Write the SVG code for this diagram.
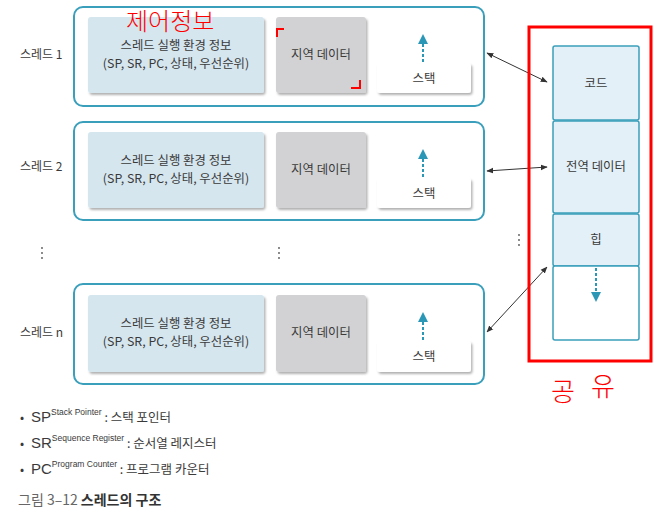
<svg xmlns="http://www.w3.org/2000/svg" width="654" height="515" viewBox="0 0 654 515">
<defs>
<marker id="ah" viewBox="0 0 10 10" refX="9" refY="5" markerWidth="7" markerHeight="7" orient="auto-start-reverse"><path d="M0,1 L10,5 L0,9 z" fill="#333"/></marker>
<marker id="bh" viewBox="0 0 10 10" refX="8" refY="5" markerWidth="5" markerHeight="5" orient="auto"><path d="M0,0 L10,5 L0,10 z" fill="#2b97b7"/></marker>
<filter id="sh" x="-10%" y="-10%" width="125%" height="130%"><feDropShadow dx="1.5" dy="2" stdDeviation="1.2" flood-color="#000" flood-opacity="0.3"/></filter>
</defs>
<style>
text{font-family:"Noto Sans CJK KR","Noto Sans",sans-serif;fill:#3a3a3a;font-size:12px}
text.c{text-anchor:middle;font-size:12.4px}
.outer{fill:#fff;stroke:#3a9fbb;stroke-width:2}
.env{fill:#d5e6ef;filter:url(#sh)}
.loc{fill:#d2d2d4;filter:url(#sh)}
.stk{fill:#fff;filter:url(#sh)}
.mem{fill:#e4f0f7;stroke:#3a9fbb;stroke-width:1.5}
.up{stroke:#2b97b7;stroke-width:2;stroke-dasharray:3,2;fill:none}
.conn{stroke:#333;stroke-width:1;fill:none;marker-start:url(#ah);marker-end:url(#ah)}
.red{fill:none;stroke:#f00;stroke-width:2}
text.hand{fill:#f00;font-family:"Noto Sans CJK KR",sans-serif;font-weight:300}
text.big{font-size:15px;font-family:"Liberation Sans","Noto Sans CJK KR",sans-serif}
.sup{font-size:8.5px}
.kr{font-size:12.5px;font-family:"Noto Sans CJK KR",sans-serif}
</style>
<rect width="654" height="515" fill="#fff"/>

<g id="thread1">
<text x="20" y="59">스레드 1</text>
<rect class="outer" x="74" y="7" width="410" height="99" rx="9"/>
<rect class="env" x="88" y="17" width="176" height="76" rx="3"/>
<text class="c" x="176" y="50">스레드 실행 환경 정보</text>
<text class="c" x="176" y="68">(SP, SR, PC, 상태, 우선순위)</text>
<rect class="loc" x="276" y="17" width="90" height="76" rx="3"/>
<text class="c" x="321" y="59">지역 데이터</text>
<rect class="stk" x="377" y="63" width="94" height="30" rx="3"/>
<text class="c" x="424" y="83">스택</text>
<path class="up" d="M423,62 V36" marker-end="url(#bh)"/>
</g>

<g id="thread2">
<text x="20" y="171">스레드 2</text>
<rect class="outer" x="74" y="122" width="410" height="98" rx="9"/>
<rect class="env" x="88" y="132" width="176" height="76" rx="3"/>
<text class="c" x="176" y="165">스레드 실행 환경 정보</text>
<text class="c" x="176" y="183">(SP, SR, PC, 상태, 우선순위)</text>
<rect class="loc" x="276" y="132" width="90" height="76" rx="3"/>
<text class="c" x="321" y="174">지역 데이터</text>
<rect class="stk" x="377" y="178" width="94" height="30" rx="3"/>
<text class="c" x="424" y="198">스택</text>
<path class="up" d="M423,177 V151" marker-end="url(#bh)"/>
</g>

<g id="threadn">
<text x="20" y="337">스레드 n</text>
<rect class="outer" x="74" y="284" width="410" height="100" rx="9"/>
<rect class="env" x="88" y="295" width="176" height="77" rx="3"/>
<text class="c" x="176" y="328">스레드 실행 환경 정보</text>
<text class="c" x="176" y="346">(SP, SR, PC, 상태, 우선순위)</text>
<rect class="loc" x="276" y="295" width="90" height="77" rx="3"/>
<text class="c" x="321" y="337">지역 데이터</text>
<rect class="stk" x="377" y="341" width="94" height="31" rx="3"/>
<text class="c" x="424" y="361">스택</text>
<path class="up" d="M423,340 V314" marker-end="url(#bh)"/>
</g>

<g id="dots" fill="#555">
<circle cx="42" cy="248" r="0.9"/><circle cx="42" cy="253" r="0.9"/><circle cx="42" cy="258" r="0.9"/>
<circle cx="279" cy="248" r="0.9"/><circle cx="279" cy="253" r="0.9"/><circle cx="279" cy="258" r="0.9"/>
<circle cx="519" cy="235" r="0.9"/><circle cx="519" cy="240" r="0.9"/><circle cx="519" cy="245" r="0.9"/>
</g>

<g id="memory">
<rect class="mem" x="553" y="46" width="86" height="74" rx="2"/>
<text class="c" x="596" y="88">코드</text>
<rect class="mem" x="553" y="121" width="86" height="92" rx="2"/>
<text class="c" x="596" y="171">전역 데이터</text>
<rect class="mem" x="553" y="214" width="86" height="52" rx="2"/>
<text class="c" x="596" y="244">힙</text>
<rect x="553" y="266" width="86" height="74" rx="2" fill="#fff" stroke="#3a9fbb" stroke-width="1.5"/>
<path class="up" d="M596,268 V300" marker-end="url(#bh)"/>
</g>

<g id="connectors">
<line class="conn" x1="487" y1="53" x2="547" y2="82"/>
<line class="conn" x1="487" y1="171" x2="547" y2="167"/>
<line class="conn" x1="487" y1="332" x2="547" y2="267"/>
</g>

<g id="annotations">
<rect x="529" y="27" width="122" height="334" fill="none" stroke="#f00" stroke-width="3"/>
<text class="hand" x="126" y="30" style="font-size:24px">제어정보</text>
<path class="red" d="M277,37 V29 H284"/>
<path class="red" d="M360,80 V88 H351"/>
<text class="hand" x="551" y="401" style="font-size:26px">공</text>
<text class="hand" x="591" y="396" style="font-size:26px">유</text>
</g>

<g id="legend">
<text x="20" y="422">•</text>
<text x="31" y="422" class="big">SP<tspan class="sup" dy="-7">Stack Pointer</tspan><tspan class="kr" dy="7"> : 스택 포인터</tspan></text>
<text x="20" y="448">•</text>
<text x="31" y="448" class="big">SR<tspan class="sup" dy="-7">Sequence Register</tspan><tspan class="kr" dy="7"> : 순서열 레지스터</tspan></text>
<text x="20" y="474">•</text>
<text x="31" y="474" class="big">PC<tspan class="sup" dy="-7">Program Counter</tspan><tspan class="kr" dy="7"> : 프로그램 카운터</tspan></text>
<text x="18" y="505" style="font-size:14px;fill:#666">그림 3–12  <tspan style="font-weight:bold;fill:#333">스레드의 구조</tspan></text>
</g>
</svg>
